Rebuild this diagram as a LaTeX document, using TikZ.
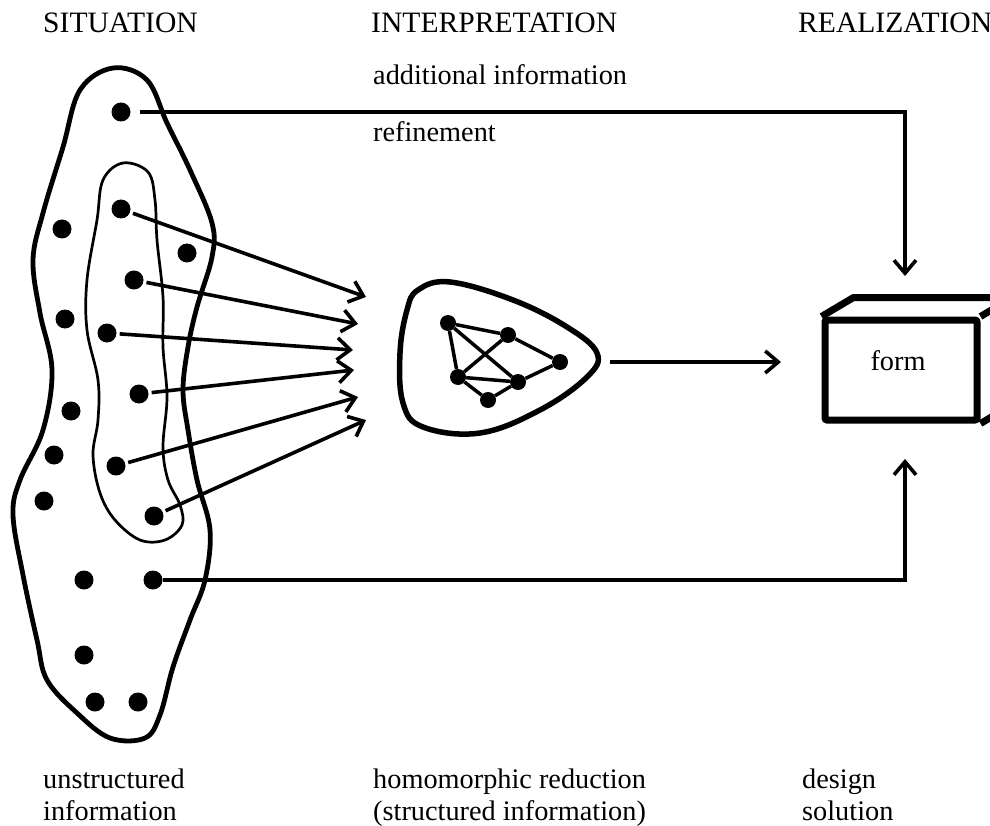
\documentclass[tikz,border=0pt]{standalone}
\usepackage{fontspec}
\setmainfont{Liberation Serif}
\usetikzlibrary{arrows.meta}
\tikzset{
  dot/.style={circle, fill=black, inner sep=0pt, minimum size=19pt},
  gdot/.style={circle, fill=black, inner sep=0pt, minimum size=16pt},
  txt/.style={font=\fontsize{28.3}{32}\selectfont, inner sep=0pt, anchor=base west},
  head/.style={font=\fontsize{29.6}{32}\selectfont, inner sep=0pt, anchor=base west},
  feed/.style={line width=3.6pt, -{Straight Barb[length=13pt,width=22pt]}},
  outerblob/.style={line width=4.8pt},
  innerblob/.style={line width=2.7pt},
  triblob/.style={line width=5.5pt},
  gedge/.style={line width=3.5pt},
  formbox/.style={draw, line width=7pt, minimum width=152pt, minimum height=100pt, inner sep=0pt, rounded corners=2pt},
}
\begin{document}
\begin{tikzpicture}[x=1pt,y=-1pt]
\useasboundingbox (0,0) rectangle (990,826);
\clip (0,0) rectangle (990,826);
\fill[white] (0,0) rectangle (990,826);

% headings
\node[head] (hsit) at (43,33) {SITUATION};
\node[head] (hint) at (371,33) {INTERPRETATION};
\node[head] (hrea) at (798,33) {REALIZATION};
\node[txt] (add) at (373,85) {additional information};
\node[txt] (ref) at (373,142) {refinement};

% bottom labels
\node[txt] (u1) at (43,788) {unstructured};
\node[txt] (u2) at (43,820) {information};
\node[txt] (h1) at (373,788) {homomorphic reduction};
\node[txt] (h2) at (373,820) {(structured information)};
\node[txt] (s1) at (802,788) {design};
\node[txt] (s2) at (802,820) {solution};

% outer blob
\draw[outerblob] plot[smooth cycle, tension=0.6] coordinates {
 (113,68) (147,80) (167,123) (190,170) (212,223) (212,257) (197,307) (188,347)
 (183,390) (188,430) (197,480) (210,530) (205,580) (190,620) (173,667) (160,715)
 (145,738) (110,738) (77,713) (47,680) (37,640) (23,575) (13,515) (20,480)
 (43,430) (52,370) (40,313) (33,260) (43,213) (63,147) (80,90)};

% inner blob
\draw[innerblob] plot[smooth cycle, tension=0.6] coordinates {
 (123,163) (148,172) (155,200) (157,240) (163,297) (163,347) (167,397) (163,447)
 (168,480) (180,505) (182,525) (165,540) (140,540) (115,520) (100,493) (93,455)
 (98,420) (98,380) (87,330) (87,280) (97,220) (103,180)};

% dots
\node[dot] (dtop) at (121,112) {};
\node[dot] (o1) at (62,229) {};
\node[dot] (i1) at (121,209) {};
\node[dot] (o2) at (187,253) {};
\node[dot] (i2) at (134,280) {};
\node[dot] (o3) at (65,319) {};
\node[dot] (i3) at (107,333) {};
\node[dot] (i4) at (139,394) {};
\node[dot] (o4) at (71,411) {};
\node[dot] (o5) at (54,455) {};
\node[dot] (i5) at (116,466) {};
\node[dot] (o6) at (44,501) {};
\node[dot] (i6) at (154,516) {};
\node[dot] (o7) at (84,580) {};
\node[dot] (dbot) at (153,580) {};
\node[dot] (o8) at (84,655) {};
\node[dot] (o9) at (95,702) {};
\node[dot] (o10) at (138,702) {};

% arrow tips of the six feeds
\coordinate (t1) at (366,297);
\coordinate (t2) at (358,324);
\coordinate (t3) at (353,350);
\coordinate (t4) at (354,370);
\coordinate (t5) at (358,397);
\coordinate (t6) at (366,420);
\draw[feed, shorten <=3pt] (i1) -- (t1);
\draw[feed, shorten <=3pt] (i2) -- (t2);
\draw[feed, shorten <=3pt] (i3) -- (t3);
\draw[feed, shorten <=3pt] (i4) -- (t4);
\draw[feed, shorten <=3pt] (i5) -- (t5);
\draw[feed, shorten <=3pt] (i6) -- (t6);

% triangle blob
\draw[triblob] plot[smooth cycle, tension=0.65] coordinates {
 (450,282) (513,300) (567,327) (597,353) (587,377) (540,410) (480,433)
 (423,427) (403,403) (400,353) (407,310) (418,290)};

% graph
\node[gdot] (g1) at (448,323) {};
\node[gdot] (g2) at (508,335) {};
\node[gdot] (g3) at (560,362) {};
\node[gdot] (g4) at (458,377) {};
\node[gdot] (g5) at (518,382) {};
\node[gdot] (g6) at (488,400) {};
\draw[gedge] (g1) -- (g2) -- (g3) -- (g5) -- (g4) -- (g1) -- (g5);
\draw[gedge] (g2) -- (g4) -- (g6) -- (g5);

% arrow to form
\coordinate (trs) at (610,362);
\coordinate (trt) at (781,362);
\draw[feed] (trs) -- (trt);

% box
\node[formbox] (box) at (901,370) {};
\node[txt, anchor=base] (formtxt) at (898,370) {form};
\draw[line width=7pt, line join=round] (box.north west) -- ++(32,-19) -- ++(200,0);
\draw[line width=7pt, line join=round] (box.north east) -- ++(32,-19);
\draw[line width=7pt, line join=round] (box.south east) -- ++(32,-19);

% feedback lines
\coordinate (ttop) at (905,276);
\coordinate (tbot) at (905,459);
\draw[feed, shorten <=9pt] (dtop) -| (ttop);
\draw[feed] (dbot) -| (tbot);
\end{tikzpicture}
\end{document}
